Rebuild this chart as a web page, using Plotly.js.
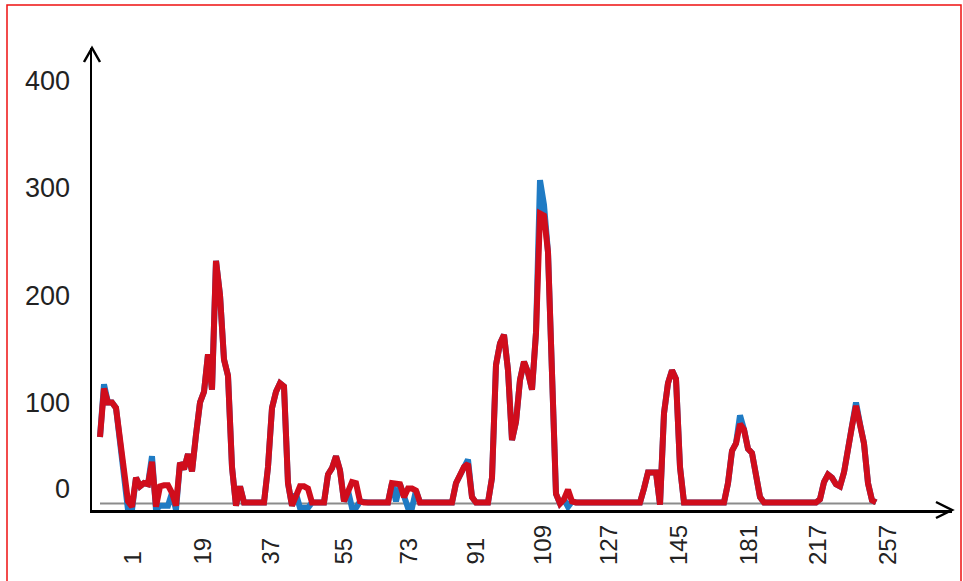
<!DOCTYPE html>
<html>
<head>
<meta charset="utf-8">
<script src="https://cdn.plot.ly/plotly-3.0.1.min.js"></script>
<style>
  html, body { margin: 0; padding: 0; background: #fff; }
  #chart { width: 963px; height: 581px; }
</style>
</head>
<body>
<div id="chart"></div>
<script>
// ---- data ----
const redSeries = [
  68,113,100,100,95,65,30,8,3,30,
  22,25,24,45,3,22,23,23,16,4,
  44,38,52,36,70,100,110,145,112,232,
  200,140,125,40,4,22,7,7,7,7,
  7,7,40,95,110,118,115,25,4,15,
  22,22,20,7,7,7,7,33,39,50,
  37,8,18,26,25,8,7,7,7,7,
  7,7,7,25,25,24,12,20,20,18,
  7,7,7,7,7,7,7,7,7,25,
  33,40,43,12,7,7,7,7,30,135,
  155,163,130,65,82,121,138,128,112,165,
  276,274,240,140,15,6,10,19,8,7,
  7,7,7,7,7,7,7,7,7,7,
  7,7,7,7,7,7,20,35,35,35,
  5,90,118,130,122,40,7,7,7,7,
  7,7,7,7,7,7,7,25,55,62,
  80,75,57,53,32,12,7,7,7,7,
  7,7,7,7,7,7,7,7,7,7,
  10,26,33,30,24,22,35,59,78,97,
  80,62,25,9,7
];
const blueSeries = [
  68,117,100,100,95,65,30,0,0,30,
  22,25,24,50,0,4,4,4,16,0,
  44,38,52,36,70,100,110,145,112,232,
  200,140,125,40,4,22,7,7,7,7,
  7,7,40,95,110,118,115,25,4,15,
  2,2,2,7,7,7,7,33,39,50,
  37,8,18,2,2,8,7,7,7,7,
  7,7,7,25,8,24,12,2,2,18,
  7,7,7,7,7,7,7,7,7,25,
  33,40,47,12,7,7,7,7,30,135,
  155,163,130,65,82,121,138,128,112,165,
  307,284,240,140,15,6,10,3,8,7,
  7,7,7,7,7,7,7,7,7,7,
  7,7,7,7,7,7,20,35,35,35,
  5,90,118,130,122,40,7,7,7,7,
  7,7,7,7,7,7,7,25,55,62,
  88,75,57,53,32,12,7,7,7,7,
  7,7,7,7,7,7,7,7,7,7,
  10,26,33,30,24,22,35,59,78,100,
  80,62,25,9,7
];
const baselineValue = 6;
const xTickLabels = ['1','19','37','55','73','91','109','127','145','181','217','257'];
const xTickPos = [8.0,25.5,42.5,60.75,77,93.75,110.5,127,144.5,162,179.25,196.75];
const yTickLabels = ['0','100','200','300','400'];
const yTickPos = [20,100,200,300,400];

// ---- layout geometry ----
const W = 963, H = 581;
const M = {l: 92, r: 11, t: 48, b: 71};
const PW = W - M.l - M.r, PH = H - M.t - M.b;
const px2paperX = px => (px - M.l) / PW;
const py2paperY = py => (H - M.b - py) / PH;

const idx = redSeries.map((_, i) => i);

const traces = [
  {x: [idx[0], idx[idx.length - 1]], y: [baselineValue, baselineValue], mode: 'lines',
   line: {color: '#8c8c8c', width: 2}, hoverinfo: 'skip', showlegend: false},
  {x: idx, y: blueSeries, mode: 'lines', line: {color: '#1f7bc4', width: 6}, showlegend: false},
  {x: idx, y: redSeries, mode: 'lines', line: {color: '#d00d1c', width: 6}, showlegend: false}
];

const annotations = xTickLabels.map((t, k) => ({
  x: xTickPos[k], xref: 'x', y: py2paperY(567), yref: 'paper',
  text: t, textangle: -90, showarrow: false, xanchor: 'center', yanchor: 'bottom',
  font: {family: 'Liberation Sans, Arial, sans-serif', size: 24, color: '#222'}
}));

const ax = 2.5;
const shapes = [
  {type: 'path', xref: 'paper', yref: 'paper',
   path: `M ${px2paperX(84)} ${py2paperY(62)} L ${px2paperX(92)} ${py2paperY(48)} L ${px2paperX(100)} ${py2paperY(62)}`,
   line: {color: '#000', width: ax}},
  {type: 'path', xref: 'paper', yref: 'paper',
   path: `M ${px2paperX(936)} ${py2paperY(502)} L ${px2paperX(952)} ${py2paperY(510)} L ${px2paperX(936)} ${py2paperY(518)}`,
   line: {color: '#000', width: ax}},
  {type: 'rect', xref: 'paper', yref: 'paper',
   x0: px2paperX(7), x1: px2paperX(961), y0: py2paperY(600), y1: py2paperY(5),
   line: {color: '#ee1111', width: 1.5}, fillcolor: 'rgba(0,0,0,0)'}
];

const layout = {
  width: W, height: H,
  margin: M,
  paper_bgcolor: '#fff', plot_bgcolor: '#fff',
  showlegend: false,
  font: {family: 'Liberation Sans, Arial, sans-serif', color: '#222'},
  xaxis: {
    range: [-2, 213], showgrid: false, zeroline: false, showticklabels: false, ticks: '',
    showline: true, linecolor: '#000', linewidth: ax, fixedrange: true
  },
  yaxis: {
    range: [0, 430], showgrid: false, zeroline: false,
    tickmode: 'array', tickvals: yTickPos, ticktext: yTickLabels,
    ticks: '', ticklabelstandoff: 14,
    tickfont: {family: 'Liberation Sans, Arial, sans-serif', size: 27, color: '#222'},
    showline: true, linecolor: '#000', linewidth: ax, fixedrange: true
  },
  annotations: annotations,
  shapes: shapes
};

Plotly.newPlot('chart', traces, layout, {displayModeBar: false, staticPlot: true});
</script>
</body>
</html>
